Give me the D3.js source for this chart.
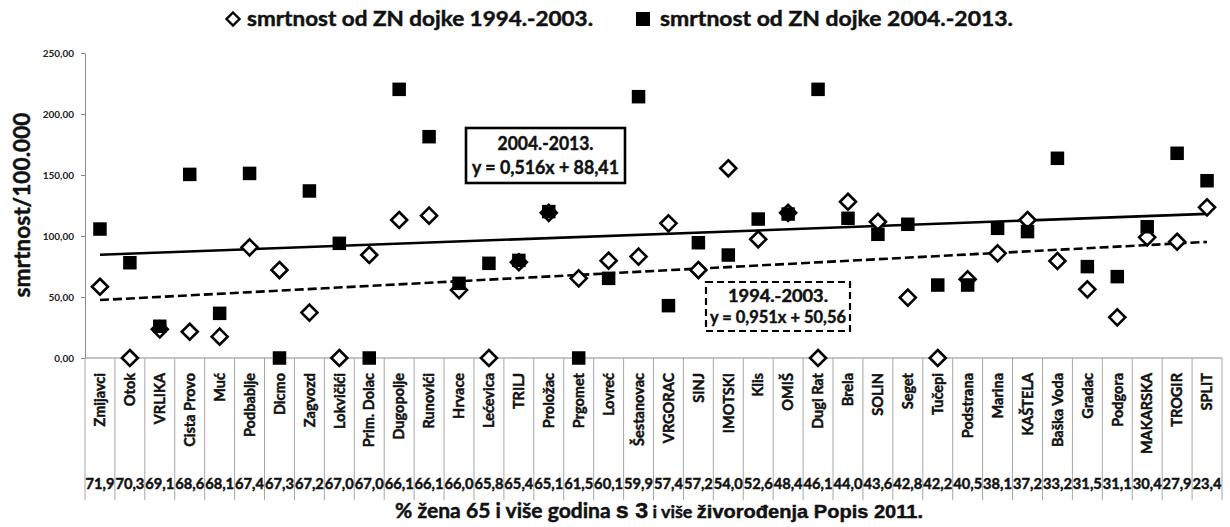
<!DOCTYPE html>
<html>
<head>
<meta charset="utf-8">
<script src="https://cdn.jsdelivr.net/npm/d3@7"></script>
<style>
  html, body { margin: 0; padding: 0; background: #fff; }
  svg { display: block; font-family: Lato, "Open Sans", sans-serif; font-weight: 700; }
  .heavy { stroke: #111; stroke-width: 0.45px; paint-order: stroke; }
</style>
</head>
<body>
<svg id="chart" width="1230" height="527"></svg>
<script>
// Municipalities, ordered by share of women 65+ with 3 or more live births (Census 2011)
const categories = ["Zmijavci","Otok","VRLIKA","Cista Provo","Muć","Podbablje","Dicmo","Zagvozd","Lokvičići","Prim. Dolac","Dugopolje","Runovići","Hrvace","Lećevica","TRILJ","Proložac","Prgomet","Lovreć","Šestanovac","VRGORAC","SINJ","IMOTSKI","Klis","OMIŠ","Dugi Rat","Brela","SOLIN","Seget","Tučepi","Podstrana","Marina","KAŠTELA","Baška Voda","Gradac","Podgora","MAKARSKA","TROGIR","SPLIT"];

const pctLabels = ["71,9","70,3","69,1","68,6","68,1","67,4","67,3","67,2","67,0","67,0","66,1","66,1","66,0","65,8","65,4","65,1","61,5","60,1","59,9","57,4","57,2","54,0","52,6","48,4","46,1","44,0","43,6","42,8","42,2","40,5","38,1","37,2","33,2","31,5","31,1","30,4","27,9","23,4"];

// Breast cancer mortality per 100,000, 1994-2003
const mort1994 = [58.4,0,23.5,21.5,17.5,90.7,72.1,37.2,0,84.4,113.1,116.7,55.7,0,78.5,119,65.3,79.8,83.1,110.4,72.1,155.5,97.3,119,0,128.1,111.7,49.5,0,64.5,85.8,113.1,79.5,56.3,33.3,98.9,95.3,123.5];

// Breast cancer mortality per 100,000, 2004-2013
const mort2004 = [105.7,78.1,26,150.5,36.6,151.3,0,136.9,94,0,220.2,181.4,61.2,77.6,80,120,0,65.3,214.2,42.9,94.5,84.4,113.9,118,220.2,114.5,101.4,109.6,59.8,59.8,106.3,103.6,163.7,74.9,66.7,107.6,167.8,145.3];

const yTicks = [0, 50, 100, 150, 200, 250];

const legendLabels = ["smrtnost od ZN dojke 1994.-2003.", "smrtnost od ZN dojke 2004.-2013."];
const fitLabels2004 = ["2004.-2013.", "y = 0,516x + 88,41"];
const fitLabels1994 = ["1994.-2003.", "y = 0,951x + 50,56"];

const svg = d3.select("#chart");

const x = d3.scaleBand().domain(categories).range([85, 1222]).padding(0);
const y = d3.scaleLinear().domain([0, 250]).range([358, 53]);
const bw = x.bandwidth();
const cx = c => x(c) + bw / 2;

// Y axis
const fmt = d => d3.format(".2f")(d).replace(".", ",");
const yAxis = svg.append("g")
  .attr("transform", "translate(85,0)")
  .call(d3.axisLeft(y).tickValues(yTicks).tickFormat(fmt).tickSize(4).tickSizeOuter(0));
yAxis.select(".domain").attr("stroke", "#8a8a8a");
yAxis.selectAll(".tick line").attr("stroke", "#8a8a8a");
yAxis.selectAll(".tick text")
  .attr("x", -11)
  .attr("fill", "#222")
  .style("font-family", "Lato, sans-serif")
  .style("font-weight", "700")
  .style("font-size", "10px");

// Category axis line and table separators
svg.append("line")
  .attr("x1", x.range()[0]).attr("x2", x.range()[1])
  .attr("y1", y(0)).attr("y2", y(0))
  .attr("stroke", "#8a8a8a").attr("stroke-width", 1);

const edges = categories.map(c => x(c)).concat([x.range()[1]]);
svg.append("g").selectAll("line").data(edges).join("line")
  .attr("x1", d => d).attr("x2", d => d)
  .attr("y1", y(0)).attr("y2", 500)
  .attr("stroke", "#a6a6a6").attr("stroke-width", 1);

// Category names (rotated)
svg.append("g").selectAll("text").data(categories).join("text")
  .attr("class", "heavy")
  .attr("transform", d => `translate(${cx(d)},373) rotate(-90)`)
  .attr("text-anchor", "end")
  .attr("dy", "0.36em")
  .style("font-size", "14.5px")
  .attr("fill", "#111")
  .text(d => d);

// Percentage row
svg.append("g").selectAll("text").data(categories).join("text")
  .attr("class", "heavy")
  .attr("x", d => cx(d))
  .attr("y", 489)
  .attr("text-anchor", "middle")
  .style("font-size", "15px")
  .attr("textLength", 29).attr("lengthAdjust", "spacingAndGlyphs")
  .attr("fill", "#111")
  .text((d, i) => pctLabels[i]);

// Least-squares trend over category position 1..n
function fit(vals) {
  const n = vals.length;
  const xs = vals.map((v, i) => i + 1);
  const mx = d3.mean(xs), my = d3.mean(vals);
  let sxy = 0, sxx = 0;
  vals.forEach((v, i) => { sxy += (xs[i] - mx) * (v - my); sxx += (xs[i] - mx) ** 2; });
  const b = sxy / sxx, a = my - b * mx;
  return [{i: 0, v: a + b * 1}, {i: n - 1, v: a + b * n}];
}
const trendLine = d3.line().x(d => cx(categories[d.i])).y(d => y(d.v));

svg.append("path")
  .attr("d", trendLine(fit(mort2004)))
  .attr("fill", "none").attr("stroke", "#000").attr("stroke-width", 2.6);

svg.append("path")
  .attr("d", trendLine(fit(mort1994)))
  .attr("fill", "none").attr("stroke", "#000").attr("stroke-width", 2.6)
  .attr("stroke-dasharray", "9,4");

// Diamond markers (1994-2003)
const dia = r => `M0,${-r}L${r},0L0,${r}L${-r},0Z`;
svg.append("g").selectAll("path").data(mort1994).join("path")
  .attr("transform", (d, i) => `translate(${cx(categories[i])},${y(d)})`)
  .attr("d", dia(8))
  .attr("fill", "#fff").attr("stroke", "#000").attr("stroke-width", 2.6);

// Square markers (2004-2013)
const sq = 13.5;
svg.append("g").selectAll("rect").data(mort2004).join("rect")
  .attr("x", (d, i) => cx(categories[i]) - sq / 2)
  .attr("y", d => y(d) - sq / 2)
  .attr("width", sq).attr("height", sq)
  .attr("fill", "#000");

// Trend equation boxes
function eqBox(x0, y0, w, h, lines, widths, dashed, fs, gap) {
  const g = svg.append("g");
  g.append("rect").attr("x", x0).attr("y", y0).attr("width", w).attr("height", h)
    .attr("fill", "#fff").attr("stroke", "#000").attr("stroke-width", dashed ? 2.2 : 2.6)
    .attr("stroke-dasharray", dashed ? "7,4" : null);
  g.selectAll("text").data(lines).join("text")
    .attr("class", "heavy")
    .attr("x", x0 + w / 2)
    .attr("y", (d, i) => y0 + h / 2 - gap / 2 + i * gap)
    .attr("dy", "0.36em")
    .attr("text-anchor", "middle")
    .style("font-size", fs + "px")
    .attr("textLength", (d, i) => widths[i]).attr("lengthAdjust", "spacingAndGlyphs")
    .attr("fill", "#111")
    .text(d => d);
}
eqBox(466, 128, 159, 55, fitLabels2004, [96, 147], false, 19, 24);
eqBox(706, 282, 144, 49, fitLabels1994, [100, 136], true, 16.5, 21);

// Legend
const lg = svg.append("g");
lg.append("path").attr("transform", "translate(233,19)").attr("d", dia(6.5))
  .attr("fill", "#fff").attr("stroke", "#000").attr("stroke-width", 2.4);
lg.append("text").attr("class", "heavy").attr("x", 247).attr("y", 19).attr("dy", "0.36em")
  .style("font-size", "20px").attr("textLength", 346).attr("lengthAdjust", "spacingAndGlyphs")
  .attr("fill", "#111").text(legendLabels[0]);
lg.append("rect").attr("x", 636).attr("y", 12).attr("width", 14).attr("height", 14).attr("fill", "#000");
lg.append("text").attr("class", "heavy").attr("x", 660).attr("y", 19).attr("dy", "0.36em")
  .style("font-size", "20px").attr("textLength", 353).attr("lengthAdjust", "spacingAndGlyphs")
  .attr("fill", "#111").text(legendLabels[1]);

// Axis titles
svg.append("text")
  .attr("class", "heavy")
  .attr("transform", "translate(22,205) rotate(-90)")
  .attr("text-anchor", "middle").attr("dy", "0.36em")
  .style("font-size", "22px").attr("fill", "#111")
  .attr("textLength", 185).attr("lengthAdjust", "spacingAndGlyphs")
  .text("smrtnost/100.000");

const xt = svg.append("text")
  .attr("class", "heavy")
  .attr("x", 395).attr("y", 511).attr("dy", "0.36em")
  .attr("textLength", 528).attr("lengthAdjust", "spacingAndGlyphs")
  .style("font-size", "20px").attr("fill", "#111");
xt.append("tspan").text("% žena 65 i više godina ");
xt.append("tspan").style("font-family", "'Liberation Sans', Arial, sans-serif").style("font-size", "22px").text("s 3");
xt.append("tspan").style("font-size", "17px").text(" i više ");
xt.append("tspan").style("font-family", "'Liberation Sans', Arial, sans-serif").style("font-size", "19px").text("živorođenja Popis 2011.");
</script>
</body>
</html>
